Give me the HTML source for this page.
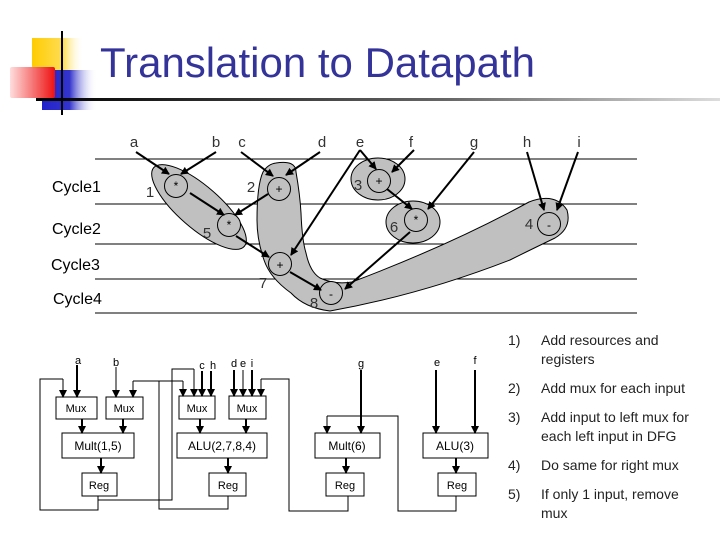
<!DOCTYPE html>
<html><head><meta charset="utf-8"><style>
html,body{margin:0;padding:0;background:#fff;}
svg{display:block;}
text{font-family:"Liberation Sans",Arial,sans-serif;}
</style></head><body>
<svg width="720" height="540" viewBox="0 0 720 540" xmlns="http://www.w3.org/2000/svg">
<defs>
<linearGradient id="gy" x1="0" x2="1"><stop offset="0" stop-color="#ffcc00"/><stop offset="0.6" stop-color="#ffdd55"/><stop offset="1" stop-color="#fff" stop-opacity="0"/></linearGradient>
<linearGradient id="gr" x1="1" x2="0"><stop offset="0" stop-color="#ee1111"/><stop offset="1" stop-color="#ffdddd"/></linearGradient>
<linearGradient id="gb" x1="0" x2="1"><stop offset="0" stop-color="#2222cc"/><stop offset="0.5" stop-color="#3333cc"/><stop offset="1" stop-color="#fff" stop-opacity="0"/></linearGradient>
<linearGradient id="gl" x1="0" x2="1"><stop offset="0" stop-color="#000"/><stop offset="0.6" stop-color="#666"/><stop offset="1" stop-color="#ddd"/></linearGradient>
<marker id="ah" markerWidth="8" markerHeight="8" refX="7" refY="4" orient="auto" markerUnits="userSpaceOnUse"><path d="M0,0 L8,4 L0,8 z" fill="#000"/></marker>
</defs>
<rect x="32" y="38" width="52" height="34" fill="url(#gy)"/>
<rect x="42" y="70" width="55" height="40" fill="url(#gb)"/>
<rect x="10" y="67" width="45" height="31" fill="url(#gr)" rx="2"/>
<rect x="36" y="98" width="684" height="3" fill="url(#gl)"/>
<rect x="61" y="31" width="2" height="84" fill="#000"/>
<text x="100" y="77" font-size="42" fill="#333399">Translation to Datapath</text>

<g stroke="#000" stroke-width="1">
<line x1="95" y1="159" x2="637" y2="159"/>
<line x1="95" y1="204" x2="637" y2="204"/>
<line x1="95" y1="244" x2="637" y2="244"/>
<line x1="95" y1="279" x2="637" y2="279"/>
<line x1="95" y1="313" x2="637" y2="313"/>
</g>
<g fill="#c0c0c0" stroke="#000" stroke-width="1">
<ellipse cx="199" cy="207" rx="60" ry="21" transform="rotate(41 199 207)"/>
<path d="M276,163 Q296,160 296,172 Q300,195 301,213 Q302,240 306,253 Q310,272 320,278 Q335,285 352,282 Q450,245 529,202 Q555,192 567,210 Q572,228 555,238 Q530,250 510,260 Q420,295 330,311 Q305,308 291,293 Q270,278 264,260 Q257,240 257,220 Q257,185 263,172 Q268,164 276,163 Z"/>
<ellipse cx="378" cy="179" rx="27" ry="21"/>
<ellipse cx="413" cy="222" rx="27" ry="21"/>
</g>
<g fill="#c0c0c0" stroke="#000" stroke-width="1">
<circle cx="176" cy="186" r="11.5"/><circle cx="279" cy="189" r="11.5"/>
<circle cx="379" cy="181" r="11.5"/><circle cx="229" cy="225" r="11.5"/>
<circle cx="416" cy="220" r="11.5"/><circle cx="549" cy="224" r="11.5"/>
<circle cx="280" cy="264" r="11.5"/><circle cx="331" cy="293" r="11.5"/>
</g>
<g font-size="12" text-anchor="middle">
<text x="176" y="190">*</text><text x="279" y="193">+</text><text x="379" y="185">+</text>
<text x="229" y="229">*</text><text x="416" y="224">*</text><text x="549" y="229">-</text>
<text x="280" y="269">+</text><text x="331" y="298">-</text>
</g>
<g font-size="15" fill="#333" text-anchor="middle">
<text x="150" y="197">1</text><text x="251" y="192">2</text><text x="358" y="190">3</text>
<text x="207" y="238">5</text><text x="394" y="232">6</text><text x="529" y="229">4</text>
<text x="263" y="288">7</text><text x="314" y="308">8</text>
</g>
<g font-size="15" text-anchor="middle" fill="#333">
<text x="134" y="147">a</text><text x="216" y="147">b</text><text x="242" y="147">c</text>
<text x="322" y="147">d</text><text x="360" y="147">e</text><text x="411" y="147">f</text>
<text x="474" y="147">g</text><text x="527" y="147">h</text><text x="579" y="147">i</text>
</g>
<g font-size="16">
<text x="52" y="192">Cycle1</text><text x="52" y="234">Cycle2</text>
<text x="51" y="270">Cycle3</text><text x="53" y="304">Cycle4</text>
</g>
<g stroke="#000" stroke-width="2" marker-end="url(#ah)">
<line x1="136" y1="152" x2="169" y2="174"/><line x1="216" y1="152" x2="181" y2="174"/>
<line x1="241" y1="152" x2="273" y2="176"/><line x1="320" y1="152" x2="286" y2="175"/>
<line x1="360" y1="150" x2="376" y2="169"/><line x1="360" y1="150" x2="291" y2="255"/>
<line x1="414" y1="150" x2="392" y2="172"/><line x1="474" y1="152" x2="428" y2="209"/>
<line x1="527" y1="152" x2="544" y2="210"/><line x1="578" y1="152" x2="557" y2="210"/>
<line x1="190" y1="193" x2="224" y2="215"/><line x1="268" y1="194" x2="235" y2="215"/>
<line x1="387" y1="189" x2="412" y2="209"/><line x1="236" y1="236" x2="269" y2="257"/>
<line x1="410" y1="232" x2="345" y2="289"/><line x1="290" y1="272" x2="321" y2="290"/>
</g>

<g fill="#fff" stroke="#000" stroke-width="1">
<rect x="56" y="397" width="41" height="22"/><rect x="106" y="397" width="37" height="22"/>
<rect x="62" y="433" width="72" height="25"/><rect x="82" y="473" width="35" height="23"/>
<rect x="179" y="396" width="36" height="23"/><rect x="229" y="396" width="37" height="23"/>
<rect x="177" y="433" width="90" height="25"/><rect x="209" y="473" width="37" height="23"/>
<rect x="315" y="433" width="65" height="25"/><rect x="326" y="473" width="38" height="23"/>
<rect x="423" y="433" width="65" height="25"/><rect x="438" y="473" width="38" height="23"/>
</g>
<g font-size="11" text-anchor="middle">
<text x="76" y="412">Mux</text><text x="124" y="412">Mux</text>
<text x="197" y="412">Mux</text><text x="247" y="412">Mux</text>
<text x="98" y="450" font-size="12">Mult(1,5)</text><text x="222" y="450" font-size="12">ALU(2,7,8,4)</text>
<text x="347" y="450" font-size="12">Mult(6)</text><text x="455" y="450" font-size="12">ALU(3)</text>
<text x="99" y="489">Reg</text><text x="228" y="489">Reg</text><text x="345" y="489">Reg</text><text x="457" y="489">Reg</text>
<text x="78" y="364">a</text><text x="116" y="366">b</text>
<text x="202" y="369">c</text><text x="213" y="369">h</text>
<text x="234" y="367">d</text><text x="243" y="367">e</text><text x="252" y="367">i</text>
<text x="361" y="367">g</text><text x="437" y="366">e</text><text x="475" y="364">f</text>
</g>
<g stroke="#000" stroke-width="1" fill="none">
<polyline points="98,496 98,510 40,510 40,379 63,379"/>
<polyline points="98,500 172,500 172,369 194,369"/>
<polyline points="228,496 228,509 159,509 159,381"/>
<line x1="133" y1="381" x2="183" y2="381"/>
<polyline points="348,496 348,511 289,511 289,379 261,379"/>
<polyline points="456,496 456,511 398,511 398,416 327,416"/>
</g>
<g stroke="#000" stroke-width="1" marker-end="url(#ah)">
<line x1="63" y1="379" x2="63" y2="397"/><line x1="116" y1="367" x2="116" y2="397"/>
<line x1="133" y1="381" x2="133" y2="397"/><line x1="183" y1="381" x2="183" y2="396"/>
<line x1="194" y1="369" x2="194" y2="396"/><line x1="243" y1="370" x2="243" y2="396"/>
<line x1="261" y1="379" x2="261" y2="396"/><line x1="327" y1="416" x2="327" y2="433"/>
</g>
<g stroke="#000" stroke-width="2" marker-end="url(#ah)">
<line x1="77" y1="365" x2="77" y2="397"/>
<line x1="202" y1="371" x2="202" y2="396"/><line x1="211" y1="371" x2="211" y2="396"/>
<line x1="234" y1="370" x2="234" y2="396"/><line x1="252" y1="370" x2="252" y2="396"/>
<line x1="82" y1="419" x2="82" y2="433"/><line x1="123" y1="419" x2="123" y2="433"/>
<line x1="200" y1="419" x2="200" y2="433"/><line x1="246" y1="419" x2="246" y2="433"/>
<line x1="101" y1="458" x2="101" y2="473"/><line x1="228" y1="458" x2="228" y2="473"/>
<line x1="346" y1="458" x2="346" y2="473"/><line x1="456" y1="458" x2="456" y2="473"/>
<line x1="361" y1="370" x2="361" y2="433"/><line x1="436" y1="370" x2="436" y2="433"/>
<line x1="475" y1="370" x2="475" y2="433"/>
</g>
<g font-size="14" fill="#222">
<text x="508" y="345">1)</text><text x="541" y="345">Add resources and</text><text x="541" y="364">registers</text>
<text x="508" y="393">2)</text><text x="541" y="393">Add mux for each input</text>
<text x="508" y="422">3)</text><text x="541" y="422">Add input to left mux for</text><text x="541" y="441">each left input in DFG</text>
<text x="508" y="470">4)</text><text x="541" y="470">Do same for right mux</text>
<text x="508" y="499">5)</text><text x="541" y="499">If only 1 input, remove</text><text x="541" y="518">mux</text>
</g>
</svg>
</body></html>
